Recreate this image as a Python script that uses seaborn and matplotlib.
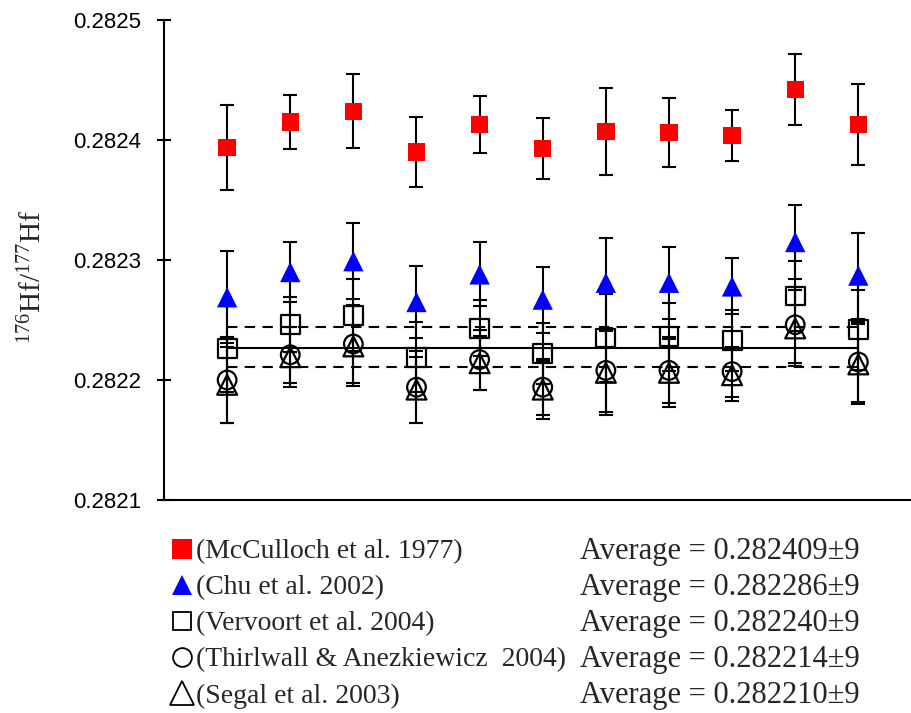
import matplotlib
matplotlib.use("Agg")
import matplotlib.pyplot as plt
import seaborn as sns
from matplotlib.lines import Line2D

# analysis number along x
analysis = list(range(1, 12))

# 176Hf/177Hf for each reference value
mcculloch = [0.282394, 0.282415, 0.282424, 0.282390, 0.282413, 0.282393,
             0.282407, 0.282406, 0.282404, 0.282442, 0.282413]
mcculloch_err = [0.0000355, 0.0000229, 0.0000306, 0.0000290, 0.0000240, 0.0000257,
                 0.0000360, 0.0000288, 0.0000214, 0.0000296, 0.0000335]

chu = [0.282269, 0.282290, 0.282299, 0.282265, 0.282288, 0.282267,
       0.282281, 0.282281, 0.282278, 0.282315, 0.282287]
chu_err = [0.0000383, 0.0000250, 0.0000317, 0.0000300, 0.0000267, 0.0000275,
           0.0000375, 0.0000300, 0.0000233, 0.0000308, 0.0000358]

vervoort = [0.282226, 0.282246, 0.282254, 0.282219, 0.282243, 0.282222,
            0.282235, 0.282236, 0.282233, 0.282270, 0.282242]
vervoort_err = [0.0000358, 0.0000230, 0.0000298, 0.0000292, 0.0000233, 0.0000255,
                0.0000364, 0.0000283, 0.0000256, 0.0000294, 0.0000333]

thirlwall = [0.282200, 0.282221, 0.282230, 0.282194, 0.282217, 0.282194,
             0.282208, 0.282208, 0.282207, 0.282246, 0.282215]
thirlwall_err = [0.0000358, 0.0000233, 0.0000325, 0.0000300, 0.0000250, 0.0000233,
                 0.0000348, 0.0000275, 0.0000208, 0.0000317, 0.0000333]

segal = [0.282196, 0.282219, 0.282228, 0.282192, 0.282214, 0.282192,
         0.282206, 0.282206, 0.282204, 0.282243, 0.282213]
segal_err = [0.0000317, 0.0000250, 0.0000333, 0.0000275, 0.0000225, 0.0000242,
             0.0000350, 0.0000283, 0.0000214, 0.0000317, 0.0000333]

# mean of the open-symbol references and its band
ref_mean = 0.282227
ref_low = 0.282211
ref_high = 0.282244

sources = ["(McCulloch et al. 1977)", "(Chu et al. 2002)", "(Vervoort et al. 2004)",
           "(Thirlwall & Anezkiewicz  2004)", "(Segal et al. 2003)"]
averages = ["Average = 0.282409\u00b19", "Average = 0.282286\u00b19",
            "Average = 0.282240\u00b19", "Average = 0.282214\u00b19",
            "Average = 0.282210\u00b19"]
yticks = [0.2821, 0.2822, 0.2823, 0.2824, 0.2825]

sns.set_style("white")
plt.rcParams["font.family"] = ["Liberation Sans", "DejaVu Sans"]
plt.rcParams["mathtext.fontset"] = "custom"
plt.rcParams["mathtext.rm"] = "Liberation Serif"
plt.rcParams["mathtext.it"] = "Liberation Serif:italic"

fig = plt.figure(figsize=(9.12, 7.13), dpi=100)
ax = fig.add_axes([164 / 912, 213 / 713, 748 / 912, 480 / 713])

series = [
    (mcculloch, mcculloch_err, "s", "red", "none", 155),
    (chu, chu_err, "^", "blue", "none", 215),
    (vervoort, vervoort_err, "s", "none", "black", 185),
    (thirlwall, thirlwall_err, "o", "none", "black", 180),
    (segal, segal_err, "^", "none", "black", 205),
]

# error bars first, symbols on top
for vals, errs, *_ in series:
    ax.errorbar(analysis, vals, yerr=errs, fmt="none", ecolor="black",
                elinewidth=1.5, capsize=4.7, capthick=1.5, zorder=2)

ax.plot([analysis[0], analysis[-1]], [ref_mean, ref_mean], color="black", lw=1.5, zorder=1)
for lvl in (ref_low, ref_high):
    ax.plot([analysis[0], analysis[-1]], [lvl, lvl], color="black", lw=1.5,
            dashes=(5, 3.5), zorder=1)

for vals, errs, mk, fc, ec, size in series:
    sns.scatterplot(x=analysis, y=vals, marker=mk, s=size, facecolors=fc,
                    edgecolor=ec, linewidth=1.6 if ec != "none" else 0,
                    ax=ax, zorder=3, legend=False)

ax.set_xlim(0, 11.85)
ax.set_ylim(0.2821, 0.2825)
ax.set_xticks([])
ax.set_yticks(yticks)
ax.set_yticklabels([f"{t:.4f}" for t in yticks], fontsize=16)
ax.tick_params(axis="y", direction="inout", length=9.4, width=1.5, pad=12,
               left=True, colors="black")
for side in ("top", "right"):
    ax.spines[side].set_visible(False)
for side in ("left", "bottom"):
    ax.spines[side].set_color("black")
    ax.spines[side].set_linewidth(1.5)

fig.text(33 / 912, 1 - 277 / 713, "$^{176}$Hf/$^{177}$Hf", rotation=90,
         ha="center", va="center", fontsize=21, family="Liberation Serif")

# key below the plot
key_rows = [549, 585, 621, 657, 693]
key_style = [("s", "red", "none", 14), ("^", "blue", "none", 14.5),
             ("s", "none", "black", 13), ("o", "none", "black", 13.5),
             ("^", "none", "black", 17)]
for row, (mk, fc, ec, ms), src, avg in zip(key_rows, key_style, sources, averages):
    yf = 1 - row / 713
    ytxt = 1 - (row + 3) / 713
    fig.add_artist(Line2D([182 / 912], [yf], transform=fig.transFigure, marker=mk,
                          markersize=ms, markerfacecolor=fc, markeredgecolor=ec,
                          markeredgewidth=1.3 if ec != "none" else 0, linestyle="none"))
    fig.text(196 / 912, ytxt, src, ha="left", va="center", fontsize=20,
             family="Liberation Serif")
    fig.text(580 / 912, ytxt, avg, ha="left", va="center", fontsize=22,
             family="Liberation Serif")

fig.savefig("out.png", dpi=100)
